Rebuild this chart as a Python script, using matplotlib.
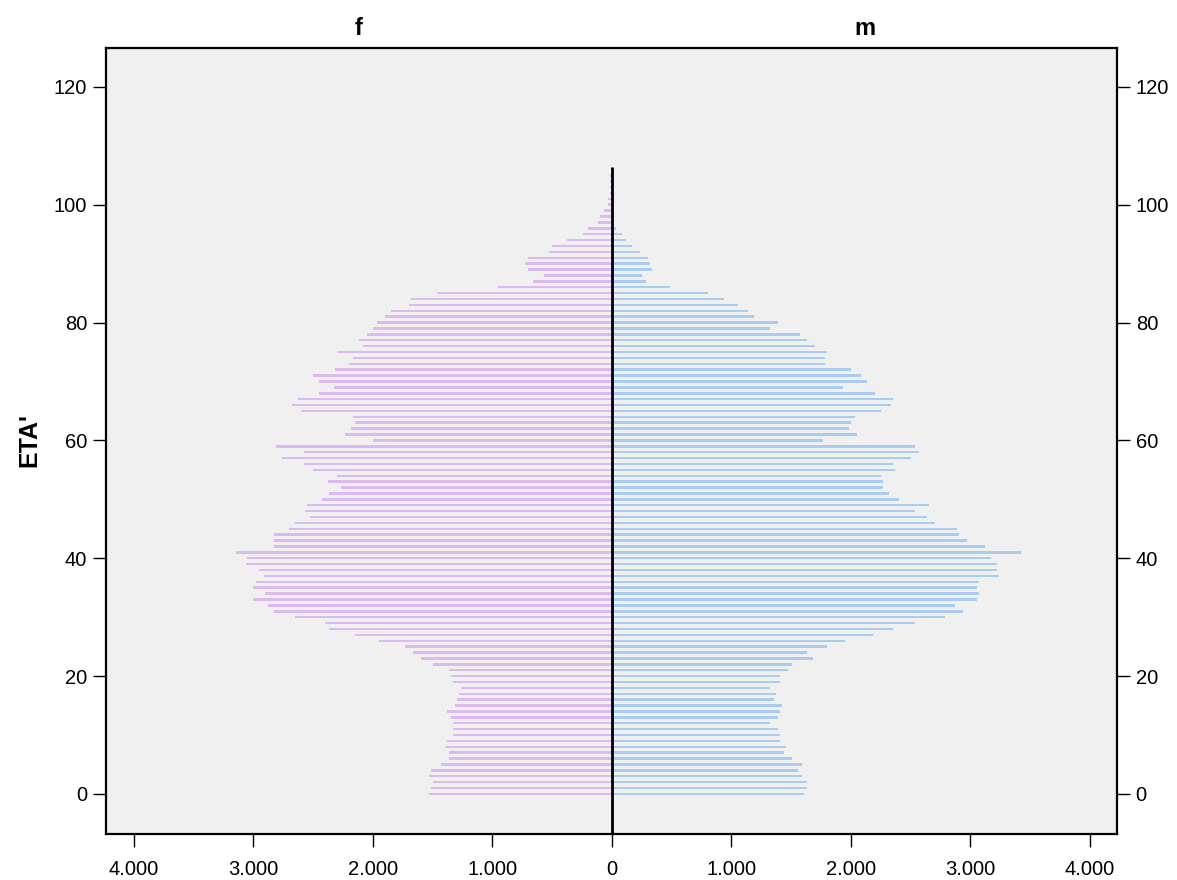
import matplotlib
matplotlib.use("Agg")
import matplotlib.pyplot as plt
import matplotlib.transforms as mtransforms

plt.rcParams['font.family'] = ['Liberation Sans', 'DejaVu Sans']

ages = list(range(0, 107))

female = [1530, 1515, 1500, 1530, 1515, 1430, 1365, 1365, 1400, 1380,
          1330, 1330, 1330, 1350, 1380, 1315, 1300, 1280, 1265, 1330,
          1350, 1365, 1500, 1600, 1665, 1735, 1950, 2150, 2365, 2400,
          2650, 2830, 2880, 3000, 2900, 3000, 2980, 2915, 2950, 3065,
          3050, 3150, 2830, 2830, 2830, 2700, 2650, 2530, 2565, 2550,
          2430, 2365, 2265, 2380, 2300, 2500, 2580, 2765, 2580, 2815,
          2000, 2230, 2180, 2150, 2165, 2600, 2680, 2630, 2450, 2330,
          2450, 2500, 2315, 2200, 2165, 2300, 2080, 2115, 2050, 2000,
          1965, 1900, 1850, 1700, 1680, 1465, 950, 665, 565, 700,
          730, 700, 530, 500, 380, 245, 197, 114, 97, 64,
          31, 31, 14, 14, 14, 14, 8]

male = [1603, 1636, 1636, 1586, 1553, 1586, 1503, 1436, 1453, 1403,
        1403, 1386, 1320, 1386, 1403, 1420, 1353, 1370, 1320, 1403,
        1403, 1470, 1503, 1686, 1636, 1803, 1953, 2186, 2353, 2536,
        2786, 2936, 2870, 3053, 3070, 3053, 3070, 3236, 3220, 3220,
        3170, 3420, 3120, 2970, 2903, 2886, 2703, 2636, 2536, 2653,
        2403, 2320, 2270, 2270, 2253, 2370, 2353, 2503, 2570, 2536,
        1770, 2053, 1986, 2003, 2036, 2253, 2336, 2353, 2203, 1936,
        2136, 2086, 2003, 1786, 1786, 1803, 1703, 1636, 1570, 1320,
        1386, 1186, 1136, 1053, 936, 803, 486, 286, 253, 336,
        320, 303, 236, 170, 120, 86, 36, 19, 8, 5,
        5, 3, 3, 3, 3, 3, 0]

x_ticks = [-4000, -3000, -2000, -1000, 0, 1000, 2000, 3000, 4000]
x_tick_labels = ["4.000", "3.000", "2.000", "1.000", "0",
                 "1.000", "2.000", "3.000", "4.000"]
y_ticks = [0, 20, 40, 60, 80, 100, 120]
panel_titles = ["f", "m"]
y_label = "ETA'"

female_color = "#DDB9F2"
male_color = "#A9CCF0"

fig = plt.figure(figsize=(11.77, 8.80), dpi=100)
ax = fig.add_axes([106 / 1177, 1 - 834 / 880, 1011 / 1177, 786 / 880])
ax.set_facecolor("#F0F0F0")

ax.barh(ages, [-v for v in female], height=0.42, color=female_color,
        edgecolor="none", zorder=2)
ax.barh(ages, male, height=0.42, color=male_color, edgecolor="none", zorder=2)

ax.set_xlim(-4234, 4226)
ax.set_ylim(-6.8, 126.6)
ax.plot([0, 0], [-6.8, 106.4], color="black", lw=2.0, zorder=3,
        solid_capstyle="butt")

ax.set_xticks(x_ticks)
ax.set_xticklabels(x_tick_labels)
ax.set_yticks(y_ticks)
ax.tick_params(axis="both", direction="out", length=9.5, width=1.0,
               labelsize=14.5, color="black")
ax.tick_params(axis="y", right=True, labelright=True, pad=4)
ax.tick_params(axis="x", pad=9)

for sp in ax.spines.values():
    sp.set_linewidth(1.6)
    sp.set_color("black")

ax.set_ylabel(y_label, fontsize=18, fontweight="bold")
ax.yaxis.set_label_coords(-0.064, 0.501)

trans = mtransforms.blended_transform_factory(ax.transData, ax.transAxes)
ax.text(-2117, 1.025, panel_titles[0], transform=trans, ha="center",
        va="center", fontsize=17, fontweight="bold")
ax.text(2113, 1.025, panel_titles[1], transform=trans, ha="center",
        va="center", fontsize=17, fontweight="bold")

fig.savefig("out.png", dpi=100, facecolor="white")
